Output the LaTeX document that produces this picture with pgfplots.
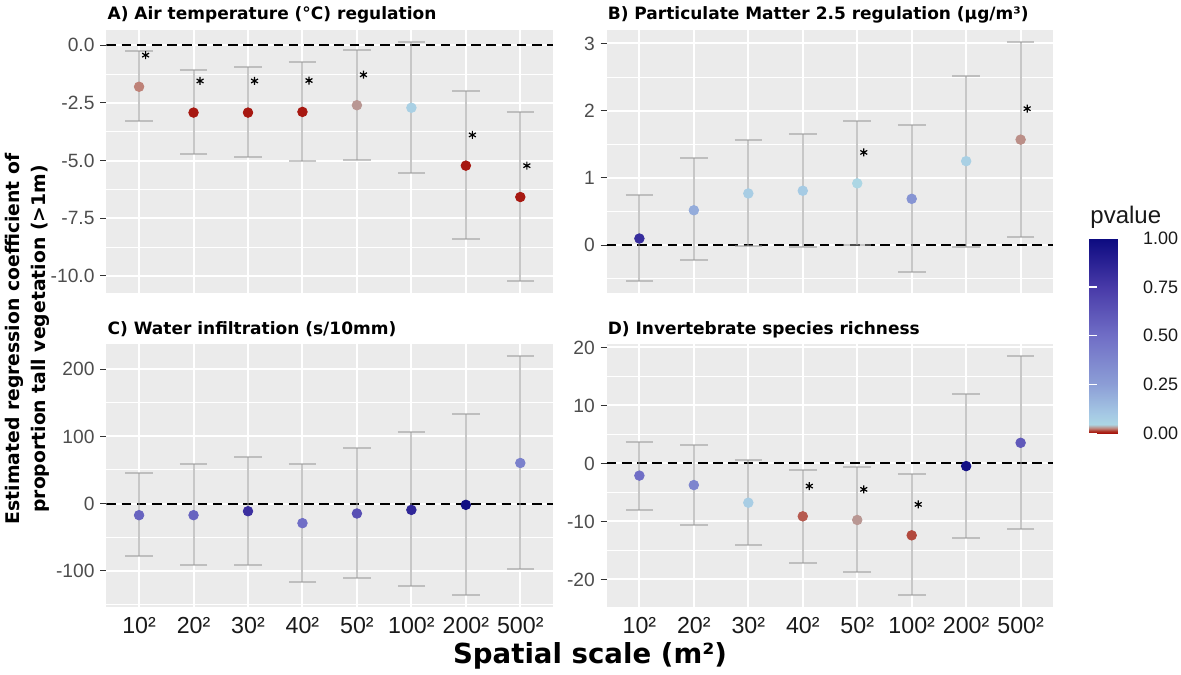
\documentclass[border=0pt]{standalone}
\usepackage{fontspec}
\setmainfont{Liberation Sans}
\newfontfamily\vb{DejaVu Sans}
\usepackage{pgfplots}
\usepackage{pgfplotstable}
\pgfplotsset{compat=1.18}
\definecolor{panelbg}{RGB}{235,235,235}
\definecolor{ebcol}{RGB}{150,150,150}
\definecolor{ticklab}{RGB}{77,77,77}

\pgfplotstableread{
x y lo hi p
1 -1.80 -3.29 -0.26 0.025
2 -2.92 -4.72 -1.09 0.003
3 -2.92 -4.85 -0.94 0.003
4 -2.89 -5.01 -0.73 0.003
5 -2.60 -4.98 -0.20 0.030
6 -2.71 -5.53 0.14 0.070
7 -5.22 -8.41 -1.99 0.003
8 -6.58 -10.22 -2.91 0.003
}\tabA
\pgfplotstableread{
x y lo hi p
1 0.10 -0.53 0.75 0.82
2 0.52 -0.22 1.29 0.20
3 0.77 -0.01 1.56 0.08
4 0.81 -0.02 1.66 0.09
5 0.92 0.00 1.84 0.045
6 0.69 -0.40 1.79 0.30
7 1.25 -0.02 2.52 0.07
8 1.57 0.12 3.02 0.028
}\tabB
\pgfplotstableread{
x y lo hi p
1 -17.4 -78.9 45.5 0.55
2 -17.4 -92.3 59.5 0.55
3 -11.5 -91.3 69.9 0.80
4 -29.3 -117.0 59.0 0.50
5 -14.9 -111.6 82.7 0.65
6 -9.5 -123.0 106.0 0.85
7 -2.0 -136.5 133.9 0.98
8 60.4 -97.8 220.0 0.40
}\tabC
\pgfplotstableread{
x y lo hi p
1 -2.10 -7.97 3.67 0.50
2 -3.73 -10.67 3.21 0.38
3 -6.77 -14.06 0.52 0.08
4 -9.12 -17.16 -1.09 0.018
5 -9.75 -18.80 -0.69 0.030
6 -12.40 -22.70 -1.84 0.015
7 -0.46 -12.90 12.00 0.97
8 3.56 -11.30 18.50 0.60
}\tabD

\pgfplotsset{
  colormap={pv}{rgb255(0pt)=(165,15,10); rgb255(2pt)=(172,45,32); rgb255(5pt)=(190,130,120); rgb255(9pt)=(172,214,228); rgb255(20pt)=(165,200,228); rgb255(50pt)=(140,158,214); rgb255(100pt)=(112,110,198); rgb255(150pt)=(72,58,168); rgb255(200pt)=(12,10,128)},
  panel/.style={
    scale only axis, width=223.3pt, height=131.5pt, anchor=south west,
    xmin=0.4, xmax=8.6, xtick={1,...,8},
    axis background/.style={fill=panelbg},
    axis line style={draw=none},
    grid=both,
    major grid style={white, line width=1pt},
    minor grid style={white, line width=0.5pt},
    ytick pos=left, xtick pos=bottom, tick align=outside, major tick length=3pt, minor tick length=0pt,
    every tick/.style={black!80, line width=0.5pt},
    xtick style={draw=none},
    yticklabel style={font=\fontsize{9.6}{10}\selectfont, text=ticklab, inner sep=0pt},
    yticklabel shift=2.75pt,
    xticklabel style={font=\fontsize{11.6}{12}\selectfont, text=black!90, inner sep=0pt},
    xticklabel shift=1.85pt,
    colormap name=pv, point meta min=0, point meta max=1,
  },
  hl/.style={black, line width=1pt, dash pattern=on 4.8pt off 2.8pt},
  pts/.style={scatter, only marks, mark=*, mark size=2.4pt, scatter src=explicit,
    scatter/use mapped color={draw=mapped color, fill=mapped color}},
  eb/.style={draw=none, forget plot, error bars/.cd, y dir=both, y explicit,
    error bar style={draw=ebcol, draw opacity=0.53, line width=1pt},
    error mark options={draw=ebcol, draw opacity=0.53, line width=1pt, mark size=6.9pt, rotate=90}},
  st/.style={only marks, mark=asterisk, mark size=2pt, mark options={black, line width=0.6pt}},
}

\begin{document}
\begin{tikzpicture}
\path[use as bounding box] (0,0) rectangle (590.5pt,337pt);

% A
\begin{axis}[panel, at={(53.2pt,190.5pt)}, ymin=-10.74, ymax=0.66,
  ytick={-10,-7.5,-5,-2.5,0}, yticklabels={-10.0,-7.5,-5.0,-2.5,0.0},
  minor ytick={-8.75,-6.25,-3.75,-1.25}, xticklabels={}]
\addplot[hl] coordinates {(0.4,0) (8.6,0)};
\addplot[pts] table[x=x, y=y, meta=p] \tabA;
\addplot[eb] table[x=x, y=y, y error plus expr=\thisrow{hi}-\thisrow{y}, y error minus expr=\thisrow{y}-\thisrow{lo}] \tabA;
\addplot[st] coordinates {(1.12,-0.43) (2.12,-1.55) (3.12,-1.55) (4.12,-1.53) (5.12,-1.28) (7.12,-3.89) (8.12,-5.22)};
\end{axis}

% B
\begin{axis}[panel, at={(303.35pt,190.5pt)}, ymin=-0.71, ymax=3.2,
  ytick={0,1,2,3}, yticklabels={0,1,2,3},
  minor ytick={-0.5,0.5,1.5,2.5}, xticklabels={},
  colorbar right,
  colorbar style={
    at={(parent axis.south east)}, anchor=south west, xshift=9.5pt, yshift=-70.15pt,
    scale only axis, width=19.85pt, height=97.5pt,
    axis line style={draw=none},
    ytick={0,0.25,0.5,0.75,1}, yticklabels={0.00,0.25,0.50,0.75,1.00},
    ytick pos=both, yticklabel pos=right,
    tick align=inside, major tick length=4pt,
    every tick/.style={white, line width=0.6pt},
    yticklabel style={font=\fontsize{9}{10}\selectfont, text=black!90, anchor=west, inner sep=0pt},
    yticklabel shift=6.85pt,
  }]
\addplot[hl] coordinates {(0.4,0) (8.6,0)};
\addplot[pts] table[x=x, y=y, meta=p] \tabB;
\addplot[eb] table[x=x, y=y, y error plus expr=\thisrow{hi}-\thisrow{y}, y error minus expr=\thisrow{y}-\thisrow{lo}] \tabB;
\addplot[st] coordinates {(5.12,1.38) (8.12,2.03)};
\end{axis}

% C
\begin{axis}[panel, at={(53.2pt,33.5pt)}, ymin=-154.3, ymax=237.8,
  ytick={-100,0,100,200}, yticklabels={-100,0,100,200},
  minor ytick={-150,-50,50,150},
  xticklabels={10²,20²,30²,40²,50²,100²,200²,500²}]
\addplot[hl] coordinates {(0.4,0) (8.6,0)};
\addplot[pts] table[x=x, y=y, meta=p] \tabC;
\addplot[eb] table[x=x, y=y, y error plus expr=\thisrow{hi}-\thisrow{y}, y error minus expr=\thisrow{y}-\thisrow{lo}] \tabC;
\end{axis}

% D
\begin{axis}[panel, at={(303.35pt,33.5pt)}, ymin=-24.76, ymax=20.6,
  ytick={-20,-10,0,10,20}, yticklabels={-20,-10,0,10,20},
  minor ytick={-15,-5,5,15},
  xticklabels={10²,20²,30²,40²,50²,100²,200²,500²}]
\addplot[hl] coordinates {(0.4,0) (8.6,0)};
\addplot[pts] table[x=x, y=y, meta=p] \tabD;
\addplot[eb] table[x=x, y=y, y error plus expr=\thisrow{hi}-\thisrow{y}, y error minus expr=\thisrow{y}-\thisrow{lo}] \tabD;
\addplot[st] coordinates {(4.12,-3.9) (5.12,-4.47) (6.12,-7.06)};
\end{axis}

% titles
\node[anchor=base west, inner sep=0pt, font=\vb\bfseries\fontsize{8.5}{10}\selectfont] at (53.6pt,327pt) {A) Air temperature (°C) regulation};
\node[anchor=base west, inner sep=0pt, font=\vb\bfseries\fontsize{8.5}{10}\selectfont] at (303.7pt,327pt) {B) Particulate Matter 2.5 regulation (µg/m³)};
\node[anchor=base west, inner sep=0pt, font=\vb\bfseries\fontsize{8.5}{10}\selectfont] at (53.6pt,169.5pt) {C) Water infiltration (s/10mm)};
\node[anchor=base west, inner sep=0pt, font=\vb\bfseries\fontsize{8.5}{10}\selectfont] at (303.7pt,169.5pt) {D) Invertebrate species richness};
% axis titles
\node[anchor=base, rotate=90, inner sep=0pt, font=\vb\bfseries\fontsize{9.4}{11}\selectfont] at (9.95pt,167.5pt) {Estimated regression coefficient of};
\node[anchor=base, rotate=90, inner sep=0pt, font=\vb\bfseries\fontsize{9.4}{11}\selectfont] at (22.6pt,167.5pt) {proportion tall vegetation (>1m)};
\node[anchor=base, inner sep=0pt, font=\vb\bfseries\fontsize{13.8}{16}\selectfont] at (295pt,5.35pt) {Spatial scale (m²)};
% legend title
\node[anchor=base west, inner sep=0pt, font=\fontsize{12}{14}\selectfont, text=black!90] at (545pt,225pt) {pvalue};
\end{tikzpicture}
\end{document}
